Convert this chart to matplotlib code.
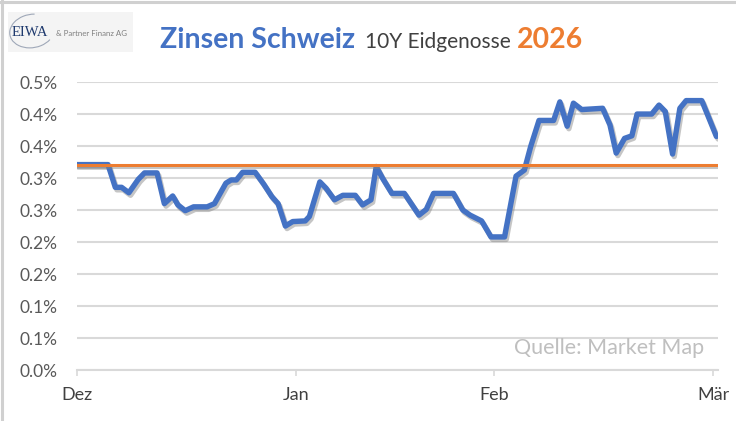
import matplotlib
matplotlib.use('Agg')
import matplotlib.pyplot as plt
import matplotlib.patheffects as pe
from matplotlib.patches import Rectangle, Arc
from matplotlib.lines import Line2D

# Handelstage ab 1. Dezember (Position auf der Achse)
handelstag = [0, 3.0, 3.7, 4.3, 5.0, 5.9, 6.5, 7.7, 8.4, 9.2, 9.7, 10.4, 11.2, 12.5, 13.2,
              14.3, 14.8, 15.3, 15.9, 17.1, 17.9, 18.7, 19.3, 20.0, 20.7, 21.9, 22.3, 23.3,
              23.9, 24.7, 25.5, 26.7, 27.4, 28.2, 28.7, 29.3, 30.2, 31.4, 32.8, 33.5, 34.2,
              36.1, 37.0, 37.7, 38.8, 39.7, 41.0, 42.1, 42.9, 43.5, 44.3, 45.7, 46.3, 47.0,
              47.6, 48.4, 50.4, 51.1, 51.7, 52.5, 53.2, 53.7, 55.1, 55.8, 56.4, 57.1, 57.8,
              58.4, 59.9, 61.3]
# Rendite 10Y Eidgenosse in %
rendite = [0.321, 0.321, 0.2855, 0.2855, 0.277, 0.298, 0.308, 0.308, 0.260, 0.272, 0.258,
           0.249, 0.255, 0.255, 0.260, 0.292, 0.297, 0.297, 0.309, 0.309, 0.291, 0.271,
           0.260, 0.225, 0.232, 0.233, 0.240, 0.294, 0.284, 0.266, 0.273, 0.273, 0.258,
           0.266, 0.318, 0.300, 0.276, 0.276, 0.242, 0.251, 0.276, 0.276, 0.250, 0.242,
           0.233, 0.208, 0.208, 0.303, 0.3125, 0.349, 0.390, 0.390, 0.419, 0.381, 0.417,
           0.407, 0.409, 0.383, 0.339, 0.362, 0.366, 0.400, 0.400, 0.414, 0.404, 0.3375,
           0.409, 0.421, 0.421, 0.365]
durchschnitt = 0.321

monat_pos = [0, 21, 40, 61]
monat_labels = ['Dez', 'Jan', 'Feb', 'Mär']
y_ticks = [0.0, 0.05, 0.10, 0.15, 0.20, 0.25, 0.30, 0.35, 0.40, 0.45]
y_labels = ['0.0%', '0.1%', '0.1%', '0.2%', '0.2%', '0.3%', '0.3%', '0.4%', '0.4%', '0.5%']

blau = '#4472C4'
orange = '#ED7D31'
grid_grau = '#D9D9D9'

plt.rcParams['font.family'] = ['Lato', 'DejaVu Sans']

fig = plt.figure(figsize=(7.36, 4.21), dpi=100)
ax = fig.add_axes([0.1042, 0.1211, 0.8713, 0.684])

schatten = [pe.SimpleLineShadow(offset=(1.2, -1.8), shadow_color='#808080', alpha=0.45),
            pe.Normal()]
ax.plot(handelstag, rendite, color=blau, lw=3.9, solid_joinstyle='round',
        solid_capstyle='round', path_effects=schatten, zorder=3)
ax.plot([handelstag[0], handelstag[-1]], [durchschnitt, durchschnitt], color=orange,
        lw=2.2, path_effects=schatten, zorder=4)

ax.set_xlim(0, 61.45)
ax.set_ylim(0, 0.45)
ax.set_yticks(y_ticks)
ax.set_yticklabels(y_labels)
ax.set_xticks(monat_pos)
ax.set_xticklabels(monat_labels)
ax.grid(axis='y', color=grid_grau, lw=1.5)
ax.set_axisbelow(True)
for s in ['top', 'right', 'left']:
    ax.spines[s].set_visible(False)
ax.spines['bottom'].set_color(grid_grau)
ax.spines['bottom'].set_linewidth(1.5)
ax.tick_params(axis='y', length=0, pad=14, labelsize=12.5, labelcolor='#595959')
ax.tick_params(axis='x', length=4.5, width=1.2, color=grid_grau, pad=8, labelsize=13,
               labelcolor='#404040')

ax.text(0.978, 0.04, 'Quelle: Market Map', transform=ax.transAxes, ha='right', va='bottom',
        fontsize=15.5, color='#BFBFBF')

# Titel
fig.text(0.2175, 0.885, 'Zinsen Schweiz', fontsize=20.5, fontweight='bold', color=blau,
         ha='left', va='baseline')
fig.text(0.496, 0.885, '10Y Eidgenosse', fontsize=15, color='#404040', ha='left',
         va='baseline')
fig.text(0.702, 0.885, '2026', fontsize=20.5, fontweight='bold', color=orange, ha='left',
         va='baseline')

# Logo
fig.add_artist(Rectangle((8 / 736, 1 - 52 / 421), 125 / 736, 40 / 421,
                         transform=fig.transFigure, facecolor='#F4F4F4', edgecolor='none'))
fig.add_artist(Arc((32 / 736, 1 - 31 / 421), 44 / 736, 34 / 421, angle=-10,
                   theta1=95, theta2=330, transform=fig.transFigure, color='#9FA8B8', lw=0.8))
fig.text(12 / 736, 1 - 36 / 421, 'EIWA', family='Liberation Serif', fontsize=10.5,
         color='#1F3A6E', ha='left', va='baseline')
fig.text(56 / 736, 1 - 36 / 421, '& Partner Finanz AG', fontsize=5.7, color='#808080',
         ha='left', va='baseline')

# Rahmen oben und links
fig.add_artist(Line2D([0, 1], [1 - 1.5 / 421, 1 - 1.5 / 421], transform=fig.transFigure,
                      color='#D0D0D0', lw=2.2))
fig.add_artist(Line2D([1.5 / 736, 1.5 / 736], [0, 1], transform=fig.transFigure,
                      color='#D0D0D0', lw=2.2))

fig.savefig('out.png', dpi=100)
